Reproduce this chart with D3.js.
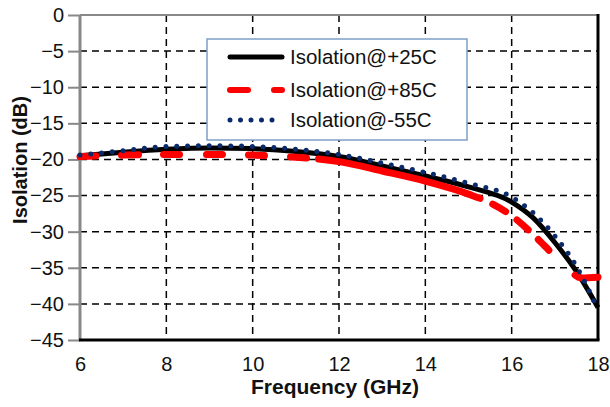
<!DOCTYPE html>
<html><head><meta charset="utf-8">
<script src="https://cdn.jsdelivr.net/npm/d3@7"></script>
<style>body{margin:0;background:#fff;} svg{display:block;font-family:"Liberation Sans",Arial,sans-serif;}</style>
</head><body>
<svg id="c" width="610" height="407"></svg>
<script>
const xTicks = [6, 8, 10, 12, 14, 16, 18];
const yTicks = [0, -5, -10, -15, -20, -25, -30, -35, -40, -45];
const seriesNames = ["Isolation@+25C", "Isolation@+85C", "Isolation@-55C"];
const freq25 = [6, 7, 8, 9, 10, 11, 12, 13, 14, 15, 16, 16.5, 17, 17.5, 18];
const iso25 = [-19.5, -19.0, -18.6, -18.4, -18.5, -18.9, -19.6, -20.9, -22.3, -23.8, -25.9, -28.1, -31.5, -35.5, -40.5];
const freq85 = [6, 7, 8, 9, 10, 11, 12, 13, 14, 15, 15.5, 16, 16.5, 17, 17.4, 17.6, 18];
const iso85 = [-19.6, -19.4, -19.3, -19.3, -19.4, -19.7, -20.3, -21.6, -23.0, -24.8, -26.0, -27.8, -30.4, -33.4, -35.7, -36.4, -36.3];
const freqM55 = [6, 7, 8, 9, 10, 11, 12, 13, 14, 15, 16, 16.5, 17, 17.5, 18];
const isoM55 = [-19.4, -18.8, -18.2, -18.1, -18.2, -18.6, -19.3, -20.5, -21.8, -23.3, -25.2, -27.4, -30.6, -34.8, -40.8];

const svg = d3.select("#c");
const L = 80, R = 598, T = 15, B = 340;
const FONT = "Liberation Sans, Arial, sans-serif";
const x = d3.scaleLinear().domain([6, 18]).range([L, R]);
const y = d3.scaleLinear().domain([0, -45]).range([T, B]);

// grid
const g = svg.append("g");
g.selectAll(".vg").data(xTicks.filter(d => d > 6 && d < 18)).enter().append("line")
  .attr("x1", d => x(d)).attr("x2", d => x(d)).attr("y1", T).attr("y2", B)
  .attr("stroke", "#000").attr("stroke-width", 1.5).attr("stroke-dasharray", "7,5");
g.selectAll(".hg").data(yTicks.filter(d => d < 0 && d > -45)).enter().append("line")
  .attr("x1", L).attr("x2", R).attr("y1", d => y(d)).attr("y2", d => y(d))
  .attr("stroke", "#000").attr("stroke-width", 1.5).attr("stroke-dasharray", "7,5");

// axes via d3
const yAxis = d3.axisLeft(y).tickValues(yTicks).tickSize(12).tickPadding(4).tickFormat(d3.format("d"));
const ya = svg.append("g").attr("transform", `translate(${L},0)`).call(yAxis);
ya.select(".domain").remove();
ya.selectAll("line").attr("stroke", "#888").attr("stroke-width", 2);
ya.selectAll("text").attr("font-size", 20).attr("fill", "#111").attr("font-family", FONT);

const xAxis = d3.axisBottom(x).tickValues(xTicks).tickSize(0).tickPadding(17).tickFormat(d3.format("d"));
const xa = svg.append("g").attr("transform", `translate(0,${B})`).call(xAxis);
xa.select(".domain").remove();
xa.selectAll("text").attr("font-size", 20).attr("fill", "#111").attr("font-family", FONT);

// frame
svg.append("line").attr("x1", L).attr("x2", R).attr("y1", T).attr("y2", T).attr("stroke", "#888").attr("stroke-width", 2);
svg.append("line").attr("x1", L).attr("x2", L).attr("y1", T).attr("y2", B).attr("stroke", "#888").attr("stroke-width", 3);
svg.append("line").attr("x1", L - 1).attr("x2", R + 1.5).attr("y1", B).attr("y2", B).attr("stroke", "#000").attr("stroke-width", 3);
svg.append("line").attr("x1", R).attr("x2", R).attr("y1", T - 1).attr("y2", B).attr("stroke", "#000").attr("stroke-width", 3);

// lines
const line = d3.line().x(d => x(d[0])).y(d => y(d[1])).curve(d3.curveMonotoneX);
const d25 = freq25.map((f, i) => [f, iso25[i]]);
const d85 = freq85.map((f, i) => [f, iso85[i]]);
const dM55 = freqM55.map((f, i) => [f, isoM55[i]]);

svg.append("path").attr("d", line(d25)).attr("fill", "none").attr("stroke", "#000").attr("stroke-width", 5);

const red = svg.append("path").attr("d", line(d85)).attr("fill", "none").attr("stroke", "#ff0000").attr("stroke-width", 7)
  .attr("stroke-linecap", "round");
// dash pattern mimicking the Excel rendering (dashed, a long solid stretch, short dashes, solid tail)
(function () {
  const p = red.node();
  const total = p.getTotalLength();
  function lenAtX(px) {
    let lo = 0, hi = total;
    for (let i = 0; i < 40; i++) { const m = (lo + hi) / 2; if (p.getPointAtLength(m).x < px) lo = m; else hi = m; }
    return lo;
  }
  const ons = [];
  [[80, 96], [121.5, 138.5], [163.5, 179.5], [206.5, 222.5], [248.5, 264.5], [290.5, 306.5], [318.5, 480]]
    .forEach(r => ons.push([lenAtX(r[0]), lenAtX(r[1])]));
  const tailStart = lenAtX(575);
  let pos = ons[ons.length - 1][1] + 14;
  while (pos + 15 <= tailStart - 12) { ons.push([pos, pos + 15]); pos += 29; }
  ons.push([tailStart, total + 5]);
  const arr = [];
  let prev = 0;
  ons.forEach((o, i) => {
    const gap = Math.max(0, o[0] - prev);
    if (i === 0) { if (gap > 0) arr.push(0, gap); }
    else arr.push(gap);
    arr.push(Math.max(0, o[1] - o[0]));
    prev = o[1];
  });
  if (arr.length % 2 === 1) arr.push(0);
  red.attr("stroke-dasharray", arr.map(v => v.toFixed(2)).join(","));
})();

svg.append("path").attr("d", line(dM55)).attr("fill", "none").attr("stroke", "#0b2a6b").attr("stroke-width", 5)
  .attr("stroke-dasharray", "0,10.8").attr("stroke-linecap", "round");

// legend
const lg = svg.append("g");
lg.append("rect").attr("x", 207).attr("y", 39).attr("width", 260).attr("height", 101)
  .attr("fill", "#fff").attr("stroke", "#7f9fc8").attr("stroke-width", 1.5);
const rows = [57, 90, 120];
const styles = [
  {stroke: "#000", w: 5, dash: null},
  {stroke: "#ff0000", w: 6, dash: "18,26"},
  {stroke: "#0b2a6b", w: 5, dash: "0,10.5"}
];
seriesNames.forEach((n, i) => {
  const s = styles[i];
  const ln = lg.append("line").attr("x1", 230).attr("x2", 282).attr("y1", rows[i]).attr("y2", rows[i])
    .attr("stroke", s.stroke).attr("stroke-width", s.w).attr("stroke-linecap", "round");
  if (s.dash) ln.attr("stroke-dasharray", s.dash);
  lg.append("text").attr("x", 290).attr("y", rows[i] + 7).attr("font-size", 20.5).attr("fill", "#111").text(n);
});

// axis titles
svg.append("text").attr("transform", `translate(27,160) rotate(-90)`).attr("text-anchor", "middle")
  .attr("font-size", 20).attr("font-weight", "bold").attr("fill", "#111").text("Isolation (dB)");
svg.append("text").attr("x", 335).attr("y", 394).attr("text-anchor", "middle")
  .attr("font-size", 21).attr("font-weight", "bold").attr("fill", "#111").text("Frequency (GHz)");
</script>
</body></html>
